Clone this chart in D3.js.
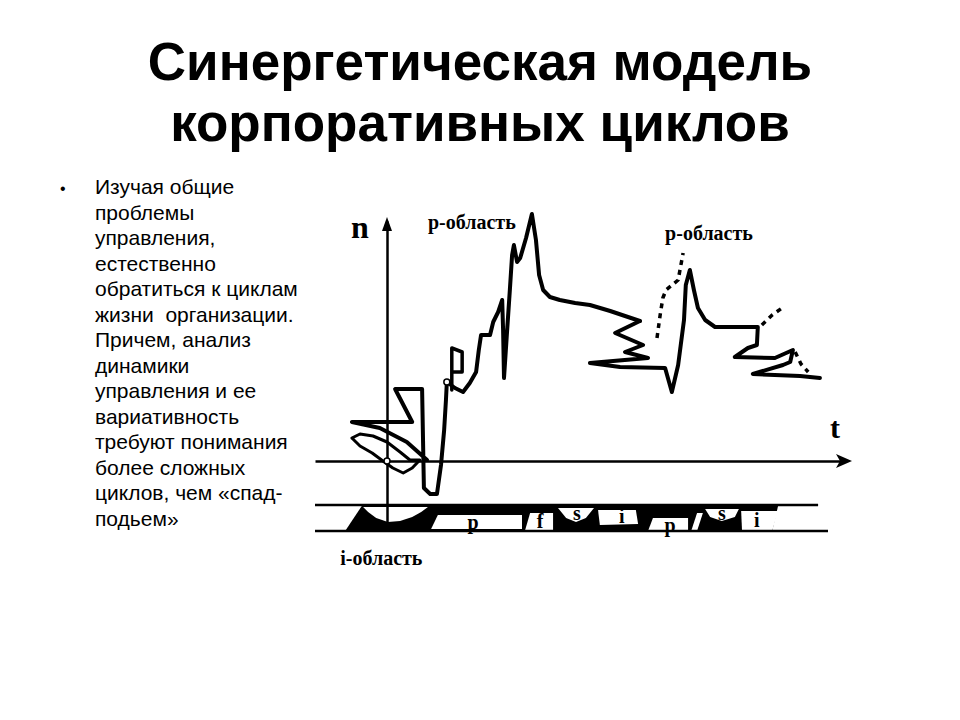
<!DOCTYPE html>
<html>
<head>
<meta charset="utf-8">
<script src="https://cdn.jsdelivr.net/npm/d3@7"></script>
<style>
  body { margin: 0; background: #fff; }
</style>
</head>
<body>
<script>
var width = 960,
    height = 720;

// Slide texts
var titleLines = ["Синергетическая модель", "корпоративных циклов"];
var bulletLines = [
  "Изучая общие",
  "проблемы",
  "управления,",
  "естественно",
  "обратиться к циклам",
  "жизни  организации.",
  "Причем, анализ",
  "динамики",
  "управления и ее",
  "вариативность",
  "требуют понимания",
  "более сложных",
  "циклов, чем «спад-",
  "подьем»"
];

// Trajectory n(t): [t, n]
var wedge = [[8.9, 0.4], [4.4, 7.6], [-1.6, 13.2], [-7.8, 15.6], [5.6, 15.6], [1.8, 28.8],
  [7.8, 28.8], [8.2, -10.8], [9.6, -13.2], [11.1, -13.2], [12.0, -1.6], [12.7, 12.4],
  [13.1, 24.4], [13.3, 31.6]];

var leaf = [[-7.8, 9.2], [-6, 10.8], [-3.1, 10], [0, 7.6], [2.9, 3.6], [5.1, 0.4], [7.3, 0.4],
  [5.6, -2.8], [3.6, -4.8], [1.3, -2.8], [-0.9, 0], [-3.3, 3.2], [-6, 6], [-7.8, 9.2]];

var rise = [[13.3, 31.6], [15.1, 29.2], [16.9, 27.6], [18.4, 31.2], [19.8, 35.6], [20.4, 44.4],
  [20.9, 50.4], [22.9, 50.4], [23.6, 55.6], [24.7, 59.6], [25.6, 64.4], [25.8, 52.4],
  [26.0, 33.2], [26.7, 52.4], [27.3, 68.4], [27.8, 82.4], [28.2, 86.4], [28.9, 79.6],
  [29.6, 81.2], [30.9, 89.2], [32.2, 98.8], [33.1, 88.4], [33.8, 74.4], [34.7, 68.4],
  [36.2, 65.6], [38.4, 64.4], [41.8, 63.2], [45.1, 62.4], [49.6, 60], [52.9, 58], [56.2, 56]];

var fall = [[56.2, 56], [50.7, 51.2], [56.9, 46.4], [52.9, 43.6], [58.0, 41.2], [45.1, 39.2],
  [51.8, 37.6], [61.8, 37.2], [63.3, 27.6], [64.7, 38.4], [66.0, 56.4], [66.4, 70.4],
  [67.3, 76.4], [68.2, 68.4], [69.1, 61.2], [70.7, 56.4], [72.9, 53.6], [82.4, 53.6],
  [82.2, 46.4], [80.2, 45.2], [77.3, 41.6], [86.2, 41.2], [90.2, 44.4], [89.6, 39.6],
  [88.0, 38.4], [81.3, 34.8], [91.8, 34], [96.2, 33.2]];

var flag = [[14.4, 28.4], [14.4, 45.2], [16.7, 43.6], [16.7, 35.6], [14.4, 35.6]];

var dotted = [
  [[60, 49.2], [60.7, 58.4], [61.3, 65.2], [62, 68.4], [64.7, 72.4], [65.8, 83.2]],
  [[83.3, 54.4], [85.6, 58.4], [87.8, 61.2]],
  [[90.7, 43.6], [92.0, 38.8], [93.6, 35.6]]
];

var markers = [[0, 0], [13.3, 31.6]];

// Phase band under the time axis
var bandTop = -17.6, bandBottom = -28;
var bandBlack = [[-9.3, -28], [-5.6, -18], [86.9, -18], [85.6, -28]];
var bandHoles = [
  [[-5.3, -18.4], [-4.2, -20.4], [-2.4, -22.8], [0.2, -24.4], [2.9, -24], [5.6, -22.4], [7.6, -20.4], [9.1, -18.4]],
  [[9.8, -27.2], [11.3, -21.6], [30, -21.6], [30, -27.2]],
  [[30.7, -27.6], [31.8, -20.8], [36.9, -20.8], [36.9, -27.6]],
  [[38, -18.8], [46, -18.8], [44.2, -22.8], [42, -24.4], [39.8, -22.8]],
  [[46.9, -19.6], [55.3, -19.6], [55.8, -25.2], [47.3, -25.6]],
  [[58, -28], [59.1, -22.8], [66.9, -22.8], [66.9, -28]],
  [[67.6, -28], [68.9, -20.8], [70.2, -20.8], [68.9, -28]],
  [[70.7, -19.2], [78.2, -19.2], [77.3, -22.4], [74.4, -24], [71.8, -22.4]],
  [[78.7, -20], [86.9, -20], [85.6, -28], [78.9, -28]]
];
var phaseLabels = ["p", "f", "s", "i", "p", "s", "i"];
var phaseT = [19.1, 34, 42.2, 52.2, 62.9, 74.4, 82.2];
var phaseN = [-24.8, -24.4, -21.2, -22.4, -26, -21.2, -24];

var regionLabels = ["р-область", "р-область", "i-область"];
var regionT = [9.1, 61.8, -10.4];
var regionN = [92.8, 88.4, -41.6];

var x = d3.scaleLinear().domain([0, 100]).range([387, 837]);
var y = d3.scaleLinear().domain([0, 100]).range([461, 211]);

var line = d3.line().x(d => x(d[0])).y(d => y(d[1]));
var serif = "'Liberation Serif', 'Times New Roman', serif";

var svg = d3.select("body").append("svg")
    .attr("width", width)
    .attr("height", height)
    .style("font-family", "'Liberation Sans', Arial, sans-serif");

// Title
svg.append("g").selectAll("text")
    .data(titleLines)
    .enter().append("text")
    .attr("x", width / 2)
    .attr("y", (d, i) => 80 + i * 61)
    .attr("text-anchor", "middle")
    .attr("font-size", 53)
    .attr("font-weight", "bold")
    .text(d => d);

// Bullet text
svg.append("text")
    .attr("x", 60)
    .attr("y", 194)
    .attr("font-size", 16)
    .text("•");

svg.append("g").selectAll("text")
    .data(bulletLines)
    .enter().append("text")
    .attr("x", 95)
    .attr("y", (d, i) => 194 + i * 25.5)
    .attr("font-size", 21)
    .style("white-space", "pre")
    .text(d => d);

// Band: black fill, white cut-outs, then border lines
var band = svg.append("g");
band.append("path")
    .attr("d", line(bandBlack) + "Z")
    .attr("fill", "#000");
band.selectAll("path.hole")
    .data(bandHoles)
    .enter().append("path")
    .attr("class", "hole")
    .attr("d", d => line(d) + "Z")
    .attr("fill", "#fff");
band.append("line")
    .attr("x1", x(-16)).attr("x2", x(95.8))
    .attr("y1", y(bandTop)).attr("y2", y(bandTop))
    .attr("stroke", "#000").attr("stroke-width", 2.5);
band.append("line")
    .attr("x1", x(-16)).attr("x2", x(98))
    .attr("y1", y(bandBottom)).attr("y2", y(bandBottom))
    .attr("stroke", "#000").attr("stroke-width", 2.5);
band.selectAll("text")
    .data(phaseLabels)
    .enter().append("text")
    .attr("x", (d, i) => x(phaseT[i]))
    .attr("y", (d, i) => y(phaseN[i]))
    .attr("dy", "0.3em")
    .attr("text-anchor", "middle")
    .attr("font-family", serif)
    .attr("font-weight", "bold")
    .attr("font-size", 20)
    .text(d => d);

// Axes (no ticks, only the lines with arrows)
var tScale = d3.scaleLinear().domain([-16, 102]).range([x(-16), x(102)]);
var nScale = d3.scaleLinear().domain([-28, 96]).range([y(-28), y(96)]);

svg.append("g")
    .attr("transform", "translate(0," + y(0) + ")")
    .call(d3.axisBottom(tScale).tickValues([]).tickSizeOuter(0))
    .select(".domain").attr("stroke-width", 2.5);

svg.append("g")
    .attr("transform", "translate(" + x(0) + ",0)")
    .call(d3.axisLeft(nScale).tickValues([]).tickSizeOuter(0))
    .select(".domain").attr("stroke-width", 2.5);

var tEnd = x(102), nEnd = y(96);
svg.append("path")
    .attr("d", "M" + (tEnd + 6) + "," + y(0) + "L" + (tEnd - 10) + "," + (y(0) - 7) +
               "L" + (tEnd - 6) + "," + y(0) + "L" + (tEnd - 10) + "," + (y(0) + 7) + "Z")
    .attr("fill", "#000");
svg.append("path")
    .attr("d", "M" + x(0) + "," + (nEnd - 4) + "L" + (x(0) - 5) + "," + (nEnd + 10) +
               "L" + (x(0) + 5) + "," + (nEnd + 10) + "Z")
    .attr("fill", "#000");

svg.append("text")
    .attr("x", x(0) - 27)
    .attr("y", 238)
    .attr("text-anchor", "middle")
    .attr("font-family", serif)
    .attr("font-weight", "bold")
    .attr("font-size", 32)
    .text("n");

svg.append("text")
    .attr("x", tEnd - 11)
    .attr("y", 438)
    .attr("text-anchor", "middle")
    .attr("font-family", serif)
    .attr("font-weight", "bold")
    .attr("font-size", 30)
    .text("t");

// Trajectory
var curve = svg.append("g")
    .attr("fill", "none")
    .attr("stroke", "#000")
    .attr("stroke-linejoin", "round")
    .attr("stroke-linecap", "round");

curve.selectAll("path.solid")
    .data([wedge, rise, fall])
    .enter().append("path")
    .attr("class", "solid")
    .attr("d", line)
    .attr("stroke-width", 4);

curve.append("path")
    .attr("d", line(leaf))
    .attr("stroke-width", 3);

curve.append("path")
    .attr("d", line(flag))
    .attr("stroke-width", 3.5);

curve.selectAll("path.dot")
    .data(dotted)
    .enter().append("path")
    .attr("class", "dot")
    .attr("d", line)
    .attr("stroke-width", 3.5)
    .attr("stroke-linecap", "butt")
    .attr("stroke-dasharray", "5,5");

svg.append("g").selectAll("circle")
    .data(markers)
    .enter().append("circle")
    .attr("cx", d => x(d[0]))
    .attr("cy", d => y(d[1]))
    .attr("r", 3)
    .attr("fill", "#fff")
    .attr("stroke", "#000")
    .attr("stroke-width", 1.5);

// Region labels
svg.append("g").selectAll("text")
    .data(regionLabels)
    .enter().append("text")
    .attr("x", (d, i) => x(regionT[i]))
    .attr("y", (d, i) => y(regionN[i]))
    .attr("font-family", serif)
    .attr("font-weight", "bold")
    .attr("font-size", 20)
    .text(d => d);
</script>
</body>
</html>
